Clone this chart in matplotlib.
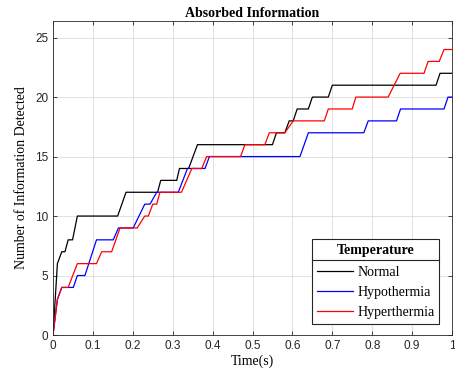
import matplotlib
matplotlib.use("Agg")
import matplotlib.pyplot as plt
from matplotlib.lines import Line2D

# step data (time in s, count)
t_normal = [0, 0.011, 0.022, 0.03, 0.038, 0.049, 0.061, 0.162, 0.183, 0.262, 0.27,
            0.31, 0.317, 0.34, 0.362, 0.55, 0.56, 0.581, 0.592, 0.602, 0.612, 0.64,
            0.65, 0.69, 0.70, 0.96, 0.97, 1.0]
y_normal = [0, 6, 7, 7, 8, 8, 10, 10, 12, 12, 13, 13, 14, 14, 16, 16, 17, 17, 18, 18,
            19, 19, 20, 20, 21, 21, 22, 22]

t_hypo = [0, 0.011, 0.022, 0.051, 0.061, 0.08, 0.109, 0.151, 0.164, 0.201, 0.23, 0.243,
          0.26, 0.314, 0.337, 0.381, 0.392, 0.619, 0.64, 0.779, 0.79, 0.861, 0.871,
          0.98, 0.99, 1.0]
y_hypo = [0, 3, 4, 4, 5, 5, 8, 8, 9, 9, 11, 11, 12, 12, 14, 14, 15, 15, 17, 17, 18, 18,
          19, 19, 20, 20]

t_hyper = [0, 0.011, 0.022, 0.038, 0.061, 0.109, 0.122, 0.147, 0.168, 0.211, 0.23, 0.239,
           0.25, 0.26, 0.268, 0.322, 0.348, 0.373, 0.385, 0.47, 0.481, 0.531, 0.542,
           0.581, 0.602, 0.68, 0.69, 0.75, 0.759, 0.84, 0.87, 0.93, 0.94, 0.968, 0.98, 1.0]
y_hyper = [0, 3, 4, 4, 6, 6, 7, 7, 9, 9, 10, 10, 11, 11, 12, 12, 14, 14, 15, 15, 16, 16,
           17, 17, 18, 18, 19, 19, 20, 20, 22, 22, 23, 23, 24, 24]

xticks = [0, 0.1, 0.2, 0.3, 0.4, 0.5, 0.6, 0.7, 0.8, 0.9, 1]
xticklabels = ["0", "0.1", "0.2", "0.3", "0.4", "0.5", "0.6", "0.7", "0.8", "0.9", "1"]
yticks = [0, 5, 10, 15, 20, 25]

serif = "Liberation Serif"
sans = "Liberation Sans"

fig = plt.figure(figsize=(4.55, 3.81), dpi=100)
ax = fig.add_axes([0.1165, 0.1207, 0.8769, 0.8243])

ax.plot(t_normal, y_normal, color="black", lw=0.9, label="Normal")
ax.plot(t_hypo, y_hypo, color="blue", lw=0.9, label="Hypothermia")
ax.plot(t_hyper, y_hyper, color="red", lw=0.9, label="Hyperthermia")

ax.set_xlim(0, 1)
ax.set_ylim(0, 26.4)
ax.set_xticks(xticks)
ax.set_xticklabels(xticklabels, fontfamily=sans, fontsize=8.5, color="#333333")
ax.set_yticks(yticks)
ax.set_yticklabels([str(v) for v in yticks], fontfamily=sans, fontsize=8.5, color="#333333")
ax.tick_params(direction="in", top=True, right=True, length=3, width=0.6, colors="#262626")
ax.grid(True, color="#dcdcdc", lw=0.6)
ax.set_axisbelow(True)
for s in ax.spines.values():
    s.set_linewidth(0.6)
    s.set_color("#262626")

ax.set_title("Absorbed Information", fontfamily=serif, fontweight="bold", fontsize=10, pad=3)
ax.set_xlabel("Time(s)", fontfamily=serif, fontsize=10, labelpad=2)
ax.set_ylabel("Number of Information Detected", fontfamily=serif, fontsize=10, labelpad=5)

leg = ax.legend(loc="lower right", bbox_to_anchor=(0.968, 0.035), title="Temperature",
                prop={"family": serif, "size": 10}, fancybox=False, framealpha=1,
                edgecolor="#262626", handlelength=2.6, handletextpad=0.3,
                borderpad=0.35, labelspacing=0.5, borderaxespad=0)
leg.get_title().set_fontfamily(serif)
leg.get_title().set_fontweight("bold")
leg.get_title().set_fontsize(10)
leg._legend_box.sep = 7
leg.get_frame().set_linewidth(0.8)

# separator line under the legend title
fig.canvas.draw()
lb = leg.get_window_extent()
tb = leg.get_title().get_window_extent()
inv = fig.transFigure.inverted()
(x0, y0) = inv.transform((lb.x0, tb.y0 - 3))
(x1, _) = inv.transform((lb.x1, tb.y0 - 3))
fig.add_artist(Line2D([x0, x1], [y0, y0], color="#262626", lw=0.8, zorder=10))

fig.savefig("out.png", dpi=100)
